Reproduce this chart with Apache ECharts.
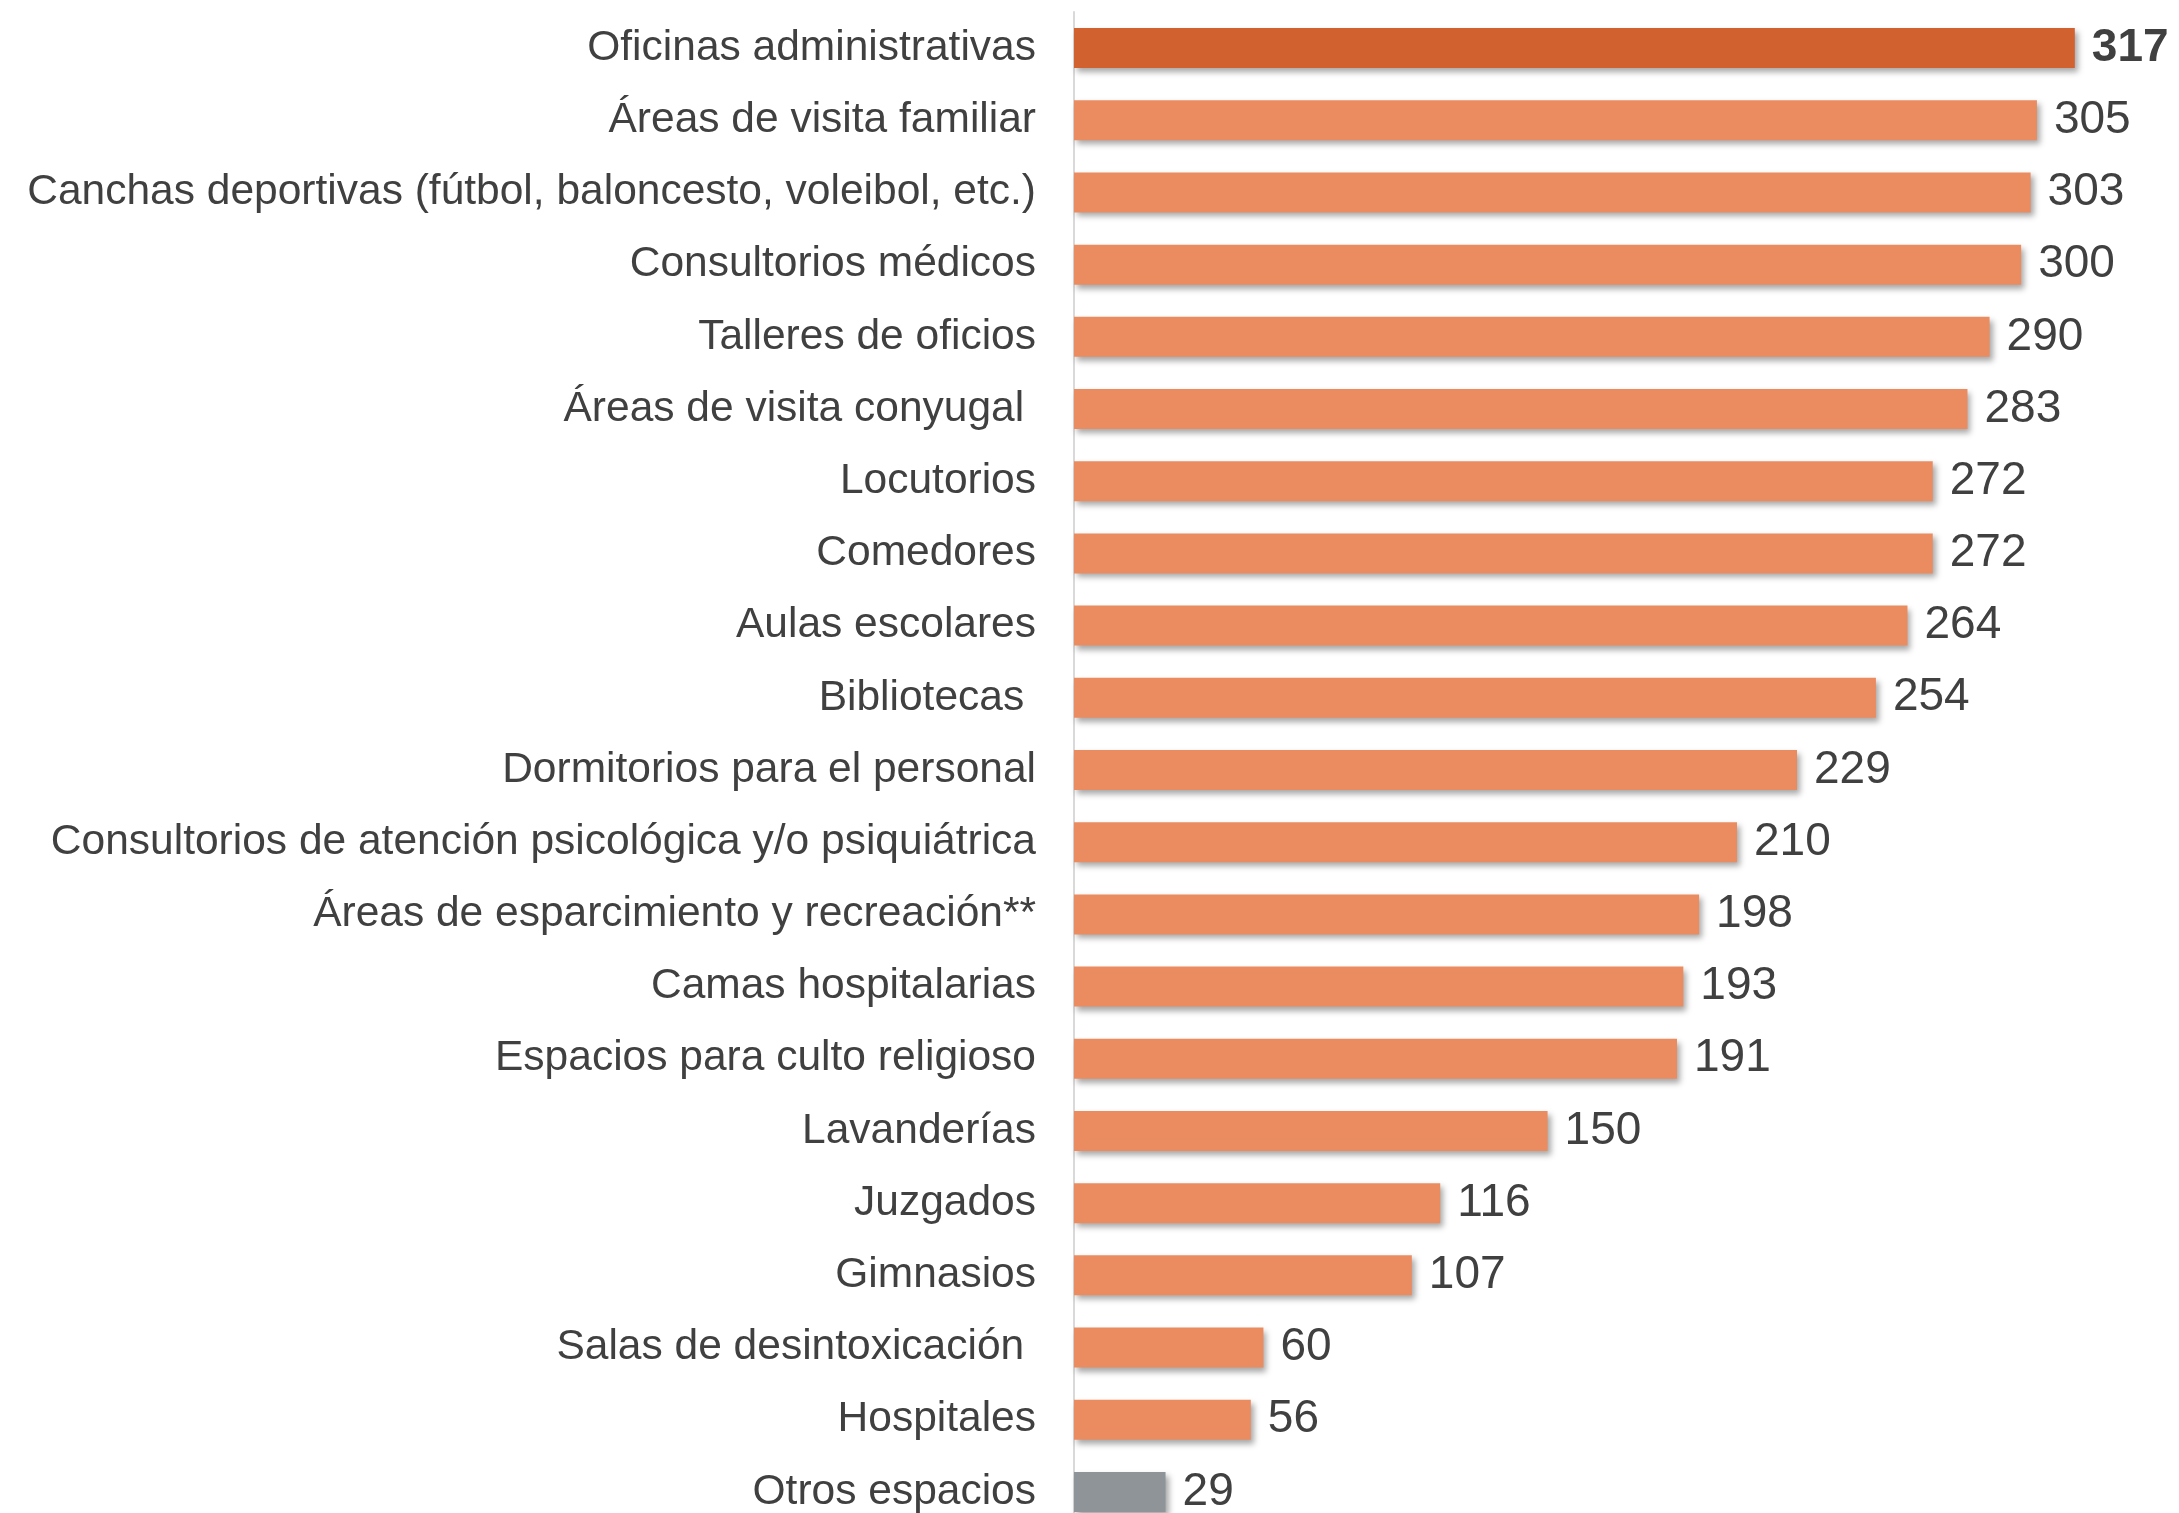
<!DOCTYPE html>
<html lang="es">
<head>
    <meta charset="UTF-8">
    <title>Espacios</title>
    <style>
        * { margin: 0; padding: 0; }
        body { background: #fff; }
        #main { width: 2179px; height: 1513px; }
    </style>
    <script src="https://cdn.jsdelivr.net/npm/echarts@6/dist/echarts.min.js"></script>
</head>
<body>
<div id="main"></div>
<script>
    var categories = [
        'Oficinas administrativas',
        'Áreas de visita familiar',
        'Canchas deportivas (fútbol, baloncesto, voleibol, etc.)',
        'Consultorios médicos',
        'Talleres de oficios',
        'Áreas de visita conyugal ',
        'Locutorios',
        'Comedores',
        'Aulas escolares',
        'Bibliotecas ',
        'Dormitorios para el personal',
        'Consultorios de atención psicológica y/o psiquiátrica',
        'Áreas de esparcimiento y recreación**',
        'Camas hospitalarias',
        'Espacios para culto religioso',
        'Lavanderías',
        'Juzgados',
        'Gimnasios',
        'Salas de desintoxicación ',
        'Hospitales',
        'Otros espacios'
    ];
    var values = [317, 305, 303, 300, 290, 283, 272, 272, 264, 254, 229, 210, 198, 193, 191, 150, 116, 107, 60, 56, 29];

    var colorTop = '#D1612F';
    var colorMain = '#EA8B60';
    var colorOther = '#8F9498';

    var chart = echarts.init(document.getElementById('main'));

    var seriesData = values.map(function (v, i) {
        var item = { value: v };
        if (i === 0) {
            item.itemStyle = { color: colorTop };
            item.label = { fontWeight: 'bold' };
        } else if (i === values.length - 1) {
            item.itemStyle = { color: colorOther };
        }
        return item;
    });

    chart.setOption({
        animation: false,
        grid: {
            left: 1074,
            top: 12,
            width: 1105,
            height: 1516,
            outerBoundsMode: 'none'
        },
        xAxis: {
            type: 'value',
            min: 0,
            max: 350,
            show: false,
            splitLine: { show: false }
        },
        yAxis: {
            type: 'category',
            inverse: true,
            data: categories,
            axisLine: { show: true, lineStyle: { color: '#D9D9D9', width: 2 } },
            axisTick: { show: false },
            axisLabel: {
                margin: 38,
                color: '#404040',
                fontSize: 42.5,
                padding: [9, 0, 0, 0],
                fontFamily: 'Liberation Sans, Arial, sans-serif'
            }
        },
        series: [{
            type: 'bar',
            data: seriesData,
            barWidth: 40,
            itemStyle: {
                color: colorMain,
                shadowColor: 'rgba(0,0,0,0.35)',
                shadowBlur: 6,
                shadowOffsetX: 3,
                shadowOffsetY: 4
            },
            label: {
                show: true,
                position: 'right',
                distance: 17,
                color: '#404040',
                fontSize: 46,
                padding: [7, 0, 0, 0],
                fontFamily: 'Liberation Sans, Arial, sans-serif'
            }
        }]
    });
</script>
</body>
</html>
